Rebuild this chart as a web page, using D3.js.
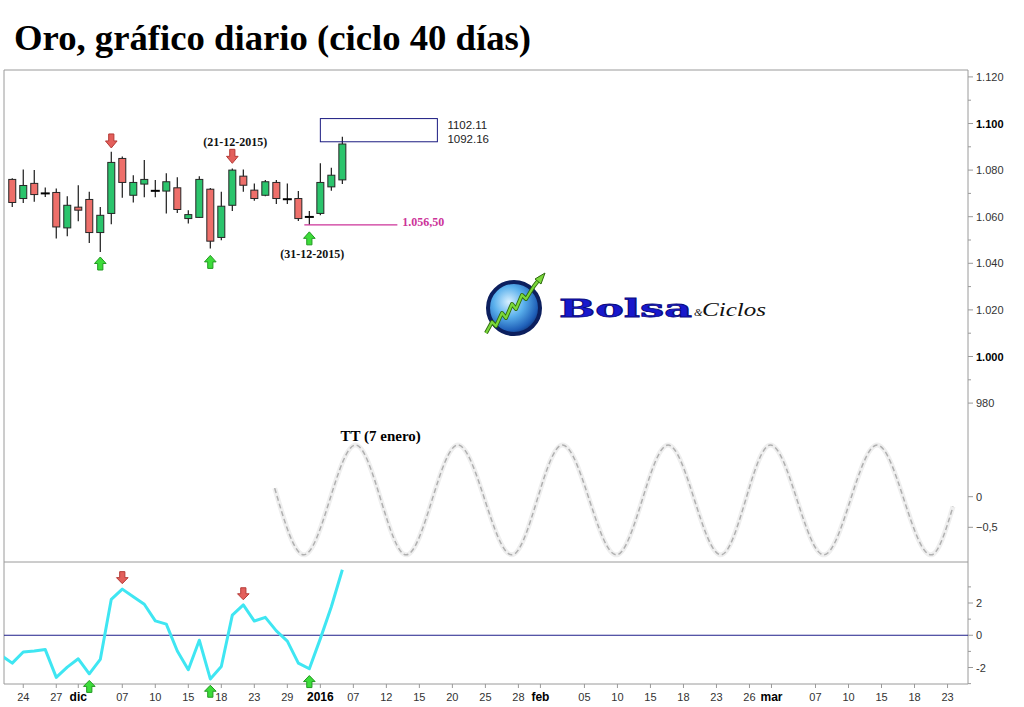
<!DOCTYPE html>
<html><head><meta charset="utf-8">
<script src="https://cdn.jsdelivr.net/npm/d3@7"></script>
<style>body{margin:0;background:#fff}svg{display:block}</style>
</head><body><svg id="c" width="1024" height="707"></svg>
<script>
// ---------------- DATA ----------------
const titleText = "Oro, gráfico diario (ciclo 40 días)";
const candleDates = ["2015-11-23","2015-11-24","2015-11-25","2015-11-26","2015-11-27","2015-11-30",
 "2015-12-01","2015-12-02","2015-12-03","2015-12-04","2015-12-07","2015-12-08","2015-12-09","2015-12-10",
 "2015-12-11","2015-12-14","2015-12-15","2015-12-16","2015-12-17","2015-12-18","2015-12-21","2015-12-22",
 "2015-12-23","2015-12-24","2015-12-28","2015-12-29","2015-12-30","2015-12-31","2016-01-04","2016-01-05","2016-01-06"];
const opens  = [1076.0,1067.8,1074.3,1070.2,1070.4,1055.2,1064.1,1067.4,1053.2,1061.4,1085.0,1069.2,1074.0,1071.3,
 1071.0,1072.4,1059.2,1059.7,1071.8,1051.1,1064.9,1077.4,1071.4,1069.2,1074.7,1067.6,1067.8,1060.0,1061.4,1072.8,1075.8];
const highs  = [1076.5,1080.3,1080.0,1072.5,1072.1,1068.8,1073.5,1070.7,1064.2,1087.9,1085.8,1077.8,1084.3,1075.7,
 1078.6,1076.9,1062.8,1077.4,1072.3,1070.7,1080.7,1080.3,1074.3,1075.7,1075.7,1074.3,1071.0,1062.4,1082.9,1081.0,1094.3];
const lows   = [1064.2,1065.9,1066.4,1068.5,1050.6,1051.6,1058.1,1048.7,1044.9,1056.8,1068.1,1066.1,1068.3,1068.3,
 1061.4,1061.6,1057.1,1059.4,1046.3,1049.9,1062.5,1070.7,1066.8,1068.8,1065.4,1065.4,1058.2,1056.5,1060.6,1071.1,1074.0];
const closes = [1066.1,1073.4,1069.5,1069.8,1055.6,1064.9,1062.8,1053.2,1060.6,1083.3,1074.7,1074.7,1076.0,1070.9,
 1075.0,1063.1,1060.9,1076.0,1049.5,1064.5,1080.0,1073.5,1067.8,1075.0,1067.8,1067.4,1059.2,1059.8,1074.7,1077.8,1091.2];

const oscDates = ["2015-11-20"].concat(candleDates);
const oscValues = [-1.25,-1.73,-1.04,-0.98,-0.89,-2.61,-1.98,-1.46,-2.39,-1.50,2.23,2.86,2.39,1.92,0.89,0.69,
 -0.98,-2.14,-0.31,-2.71,-1.94,1.25,1.88,0.88,1.11,0.27,-0.36,-1.73,-2.08,-0.21,1.77,4.06];

// projected cycle (trading-day offset from 23-11-2015, value)
const cycleDays   = [23.85,26.5,31.2,35.8,40.5,45.4,50.0,54.9,59.6,64.4,68.9,73.75,78.6,83.5,85.5];
const cycleValues = [0.14,-0.95,0.845,-0.95,0.845,-0.95,0.845,-0.95,0.845,-0.95,0.845,-0.95,0.845,-0.95,-0.16];
const cycleLabel = "TT (7 enero)";

const holidays = ["2015-12-25","2016-01-01"];
const priceTicks = [980,1000,1020,1040,1060,1080,1100,1120];
const priceMinorTicks = [990,1010,1030,1050,1070,1090,1110];
const boldPriceTicks = [1000,1100];
const oscTicks = [-2,0,2];
const oscMinorTicks = [-3,-1,1,3];
const cycleTicks = [0,-0.5];
const xTickDates = ["2015-11-24","2015-11-27","2015-12-01","2015-12-07","2015-12-10","2015-12-15","2015-12-18",
 "2015-12-23","2015-12-29","2016-01-04","2016-01-07","2016-01-12","2016-01-15","2016-01-20","2016-01-25",
 "2016-01-28","2016-02-01","2016-02-05","2016-02-10","2016-02-15","2016-02-18","2016-02-23","2016-02-26",
 "2016-03-01","2016-03-07","2016-03-10","2016-03-15","2016-03-18","2016-03-23"];
const xTickLabels = ["24","27","dic","07","10","15","18","23","29","2016","07","12","15","20","25","28","feb",
 "05","10","15","18","23","26","mar","07","10","15","18","23"];
const boldXLabels = ["dic","2016","feb","mar"];

const targetHigh = 1102.11, targetLow = 1092.16;
const targetStart = "2016-01-04", targetEnd = "2016-01-19";
const supportValue = 1056.50, supportStart = "2015-12-31", supportEnd = "2016-01-13";
const dateLabels = [{date:"2015-12-21", value:1090.3}, {date:"2015-12-31", value:1042.3}];
const priceDownArrows = [{date:"2015-12-04", value:1089.5},{date:"2015-12-21", value:1082.9}];
const priceUpArrows = [{date:"2015-12-03", value:1042.7},{date:"2015-12-17", value:1043.4},{date:"2015-12-31", value:1053.5}];
const oscDownArrows = [{date:"2015-12-07", value:3.2},{date:"2015-12-22", value:2.2}];
const oscUpArrows = [{date:"2015-12-02", value:-2.8},{date:"2015-12-17", value:-3.1},{date:"2015-12-31", value:-2.5}];

// ---------------- LAYOUT ----------------
const svg = d3.select("#c");
const L = 4, R = 968, TOP = 70, MAINB = 562, OSCB = 684;
const parse = d3.timeParse("%Y-%m-%d");
const fmt = d3.timeFormat("%Y-%m-%d");
const es = d3.formatLocale({decimal:",", thousands:".", grouping:[3], currency:["","€"]});

const days = d3.timeDay.range(parse("2015-11-20"), parse("2016-04-01"))
  .filter(d => d.getDay() !== 0 && d.getDay() !== 6 && !holidays.includes(fmt(d)));
const idx = new Map(days.map((d,i) => [fmt(d), i - 1]));
const x = d3.scaleLinear().domain([-0.75, 86.86]).range([L, R]);
const xd = s => x(idx.get(s));
const y = d3.scaleLinear().domain([1000, 1100]).range([356.5, 123.5]);
const yo = d3.scaleLinear().domain([-2, 2]).range([667.5, 603]);
const yc = d3.scaleLinear().domain([-0.5, 0]).range([527.3, 496.7]);

const defs = svg.append("defs");
defs.append("clipPath").attr("id","clipMain").append("rect").attr("x",L).attr("y",TOP).attr("width",R-L).attr("height",MAINB-TOP);
defs.append("clipPath").attr("id","clipOsc").append("rect").attr("x",L).attr("y",MAINB).attr("width",R-L).attr("height",OSCB-MAINB);
const rg = defs.append("radialGradient").attr("id","globe").attr("cx","40%").attr("cy","38%").attr("r","65%");
rg.append("stop").attr("offset","0%").attr("stop-color","#d8f0ff");
rg.append("stop").attr("offset","45%").attr("stop-color","#5ab0ec");
rg.append("stop").attr("offset","85%").attr("stop-color","#1f5fb8");
rg.append("stop").attr("offset","100%").attr("stop-color","#123a80");

// title
svg.append("text").attr("x",14).attr("y",50).text(titleText).attr("textLength",517).attr("lengthAdjust","spacingAndGlyphs")
  .attr("font-family","Liberation Serif, serif").attr("font-weight","bold").attr("font-size",36).attr("fill","#000");

// frames
const frame = svg.append("g").attr("stroke","#9a9a9a").attr("fill","none");
frame.append("line").attr("x1",L).attr("x2",R).attr("y1",TOP).attr("y2",TOP);
frame.append("line").attr("x1",L).attr("x2",L).attr("y1",TOP).attr("y2",OSCB);
frame.append("line").attr("x1",L).attr("x2",R).attr("y1",MAINB).attr("y2",MAINB);
frame.append("line").attr("x1",L).attr("x2",R).attr("y1",OSCB).attr("y2",OSCB);
frame.append("line").attr("x1",R).attr("x2",R).attr("y1",TOP).attr("y2",OSCB);

// ---------- axes ----------
const axisFont = "Liberation Sans, Arial, sans-serif";
function rightTicks(scale, major, minor, labelFn, boldSet, fs) {
  const g = svg.append("g");
  g.selectAll("line.mj").data(major).join("line").attr("x1",R).attr("x2",R+5)
    .attr("y1",d=>scale(d)).attr("y2",d=>scale(d)).attr("stroke","#9a9a9a");
  g.selectAll("line.mn").data(minor).join("line").attr("x1",R).attr("x2",R+3)
    .attr("y1",d=>scale(d)).attr("y2",d=>scale(d)).attr("stroke","#9a9a9a");
  g.selectAll("text").data(major).join("text").attr("x",R+8).attr("y",d=>scale(d)+4)
    .text(labelFn).attr("font-family",axisFont).attr("font-size",fs)
    .attr("font-weight",d=>boldSet.includes(d)?"bold":"normal")
    .attr("fill",d=>boldSet.includes(d)?"#000":"#333");
}
rightTicks(y, priceTicks, priceMinorTicks, d => es.format(",")(d), boldPriceTicks, 11);
rightTicks(yc, cycleTicks, [], d => d===0 ? "0" : es.format(",.1f")(d), [], 11);
rightTicks(yo, oscTicks, oscMinorTicks, d => String(d), [], 11);

const xg = svg.append("g");
xTickDates.forEach((d,i) => {
  const xx = xd(d);
  xg.append("line").attr("x1",xx).attr("x2",xx).attr("y1",OSCB).attr("y2",OSCB+4).attr("stroke","#9a9a9a");
  const b = boldXLabels.includes(xTickLabels[i]);
  xg.append("text").attr("x",xx).attr("y",701).attr("text-anchor","middle").text(xTickLabels[i])
    .attr("font-family",axisFont).attr("font-size",b?12:11).attr("font-weight",b?"bold":"normal")
    .attr("fill",b?"#000":"#333");
});

// ---------- projected cycle ----------
const cyc = cycleDays.map((d,i)=>[x(d), yc(cycleValues[i])]);
const cl = d3.line().curve(d3.curveMonotoneX);
svg.append("path").attr("d",cl(cyc)).attr("fill","none").attr("stroke","#efefef").attr("stroke-width",5);
svg.append("path").attr("d",cl(cyc)).attr("fill","none").attr("stroke","#b0b0b0").attr("stroke-width",1.5).attr("stroke-dasharray","5,3");
svg.append("text").attr("x",x(cycleDays[2])-15).attr("y",441).text(cycleLabel)
  .attr("font-family","Liberation Serif, serif").attr("font-weight","bold").attr("font-size",15).attr("fill","#000");

// ---------- candles ----------
const cg = svg.append("g").attr("clip-path","url(#clipMain)");
const bw = 7;
candleDates.forEach((d,i) => {
  const cx = xd(d), o = opens[i], c = closes[i];
  const doji = Math.abs(o-c) < 0.6;
  cg.append("line").attr("x1",cx).attr("x2",cx).attr("y1",y(highs[i])).attr("y2",y(lows[i])).attr("stroke","#1a1a1a").attr("stroke-width",1.2);
  if (doji) {
    cg.append("line").attr("x1",cx-4.5).attr("x2",cx+4.5).attr("y1",y((o+c)/2)).attr("y2",y((o+c)/2)).attr("stroke","#000").attr("stroke-width",2);
  } else {
    const top = y(Math.max(o,c)), bot = y(Math.min(o,c));
    cg.append("rect").attr("x",cx-bw/2).attr("y",top).attr("width",bw).attr("height",bot-top)
      .attr("fill", c > o ? "#2bc46c" : "#ee6f6a").attr("stroke","#262626").attr("stroke-width",1);
  }
});

// target box
const bx0 = xd(targetStart), bx1 = xd(targetEnd) - 4;
svg.append("rect").attr("x",bx0).attr("y",y(targetHigh)).attr("width",bx1-bx0).attr("height",y(targetLow)-y(targetHigh))
  .attr("fill","none").attr("stroke","#1a1a80").attr("stroke-width",1);
[targetHigh, targetLow].forEach((v,i) => {
  svg.append("text").attr("x",bx1+10).attr("y",i===0?129:143).text(d3.format(".2f")(v))
    .attr("font-family",axisFont).attr("font-size",11.5).attr("fill","#222");
});

// support line
const sx0 = xd(supportStart) - 5, sx1 = xd(supportEnd);
svg.append("line").attr("x1",sx0).attr("x2",sx1).attr("y1",y(supportValue)).attr("y2",y(supportValue))
  .attr("stroke","#cc3399").attr("stroke-width",1.3);
svg.append("text").attr("x",sx1+5).attr("y",y(supportValue)+1).text(es.format(",.2f")(supportValue))
  .attr("font-family","Liberation Serif, serif").attr("font-weight","bold").attr("font-size",12).attr("fill","#cc3399");

// date labels
const dfmt = d3.timeFormat("(%d-%m-%Y)");
dateLabels.forEach(dl => {
  svg.append("text").attr("x",xd(dl.date)+3).attr("y",y(dl.value)).attr("text-anchor","middle").text(dfmt(parse(dl.date)))
    .attr("font-family","Liberation Serif, serif").attr("font-weight","bold").attr("font-size",12).attr("fill","#111");
});

// arrows
function arrow(cx, tipY, dir, fill, stroke, h) {
  const s = dir;
  const pts = [[cx-2.6, tipY - s*h],[cx+2.6, tipY - s*h],[cx+2.6, tipY - s*h*0.5],[cx+5.8, tipY - s*h*0.5],
               [cx, tipY],[cx-5.8, tipY - s*h*0.5],[cx-2.6, tipY - s*h*0.5]];
  svg.append("path").attr("d","M"+pts.map(p=>p.join(",")).join("L")+"Z")
    .attr("fill",fill).attr("stroke",stroke).attr("stroke-width",1);
}
const RED = "#e35f5b", REDS = "#b53a36", GRN = "#3ddc3a", GRNS = "#229922";
priceDownArrows.forEach(a => arrow(xd(a.date), y(a.value), 1, RED, REDS, 14));
priceUpArrows.forEach(a => arrow(xd(a.date), y(a.value), -1, GRN, GRNS, 13));

// ---------- oscillator ----------
svg.append("line").attr("x1",L).attr("x2",R).attr("y1",yo(0)).attr("y2",yo(0)).attr("stroke","#1e1e8a").attr("stroke-width",1);
svg.append("path").attr("clip-path","url(#clipOsc)")
  .attr("d", d3.line()(oscDates.map((d,i)=>[xd(d), yo(oscValues[i])])))
  .attr("fill","none").attr("stroke","#3fe6f2").attr("stroke-width",3).attr("stroke-linejoin","round");
oscDownArrows.forEach(a => arrow(xd(a.date), yo(a.value), 1, RED, REDS, 12));
oscUpArrows.forEach(a => arrow(xd(a.date), yo(a.value), -1, GRN, GRNS, 12));

// ---------- logo ----------
const lg = svg.append("g");
lg.append("circle").attr("cx",514).attr("cy",308).attr("r",26).attr("fill","url(#globe)").attr("stroke","#0c1f5e").attr("stroke-width",4);
const zig = [[486,333],[492,322],[496,326],[502,313],[506,318],[512,304],[516,309],[522,295],[526,299],[534,286],[541,277]];
lg.append("path").attr("d",d3.line()(zig)).attr("fill","none").attr("stroke","#2f6a10").attr("stroke-width",4).attr("stroke-linejoin","round");
lg.append("path").attr("d",d3.line()(zig)).attr("fill","none").attr("stroke","#7ad83a").attr("stroke-width",2.2).attr("stroke-linejoin","round");
lg.append("path").attr("d","M545,273 L535,279 L541,284 Z").attr("fill","#7ad83a").attr("stroke","#2f6a10").attr("stroke-width",1);
lg.append("text").attr("x",559).attr("y",317).text("Bolsa").attr("textLength",133).attr("lengthAdjust","spacingAndGlyphs")
  .attr("font-family","DejaVu Serif, serif").attr("font-weight","bold").attr("font-size",24)
  .attr("fill","#1818cc").attr("stroke","#0a0a80").attr("stroke-width",0.8);
lg.append("text").attr("x",694).attr("y",316).text("&").attr("font-family","Liberation Serif, serif").attr("font-style","italic").attr("font-size",11).attr("fill","#111");
lg.append("text").attr("x",702).attr("y",316).text("Ciclos").attr("textLength",64).attr("lengthAdjust","spacingAndGlyphs")
  .attr("font-family","Liberation Serif, serif").attr("font-style","italic").attr("font-size",19).attr("fill","#111");
</script></body></html>
